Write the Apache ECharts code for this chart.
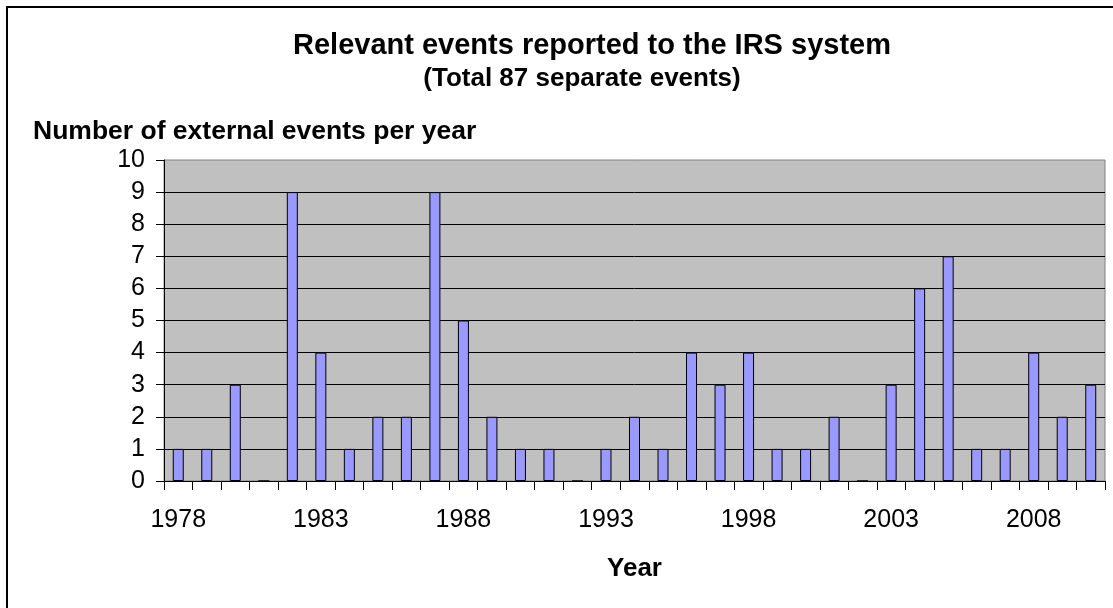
<!DOCTYPE html>
<html>
<head>
<meta charset="utf-8">
<script src="https://cdn.jsdelivr.net/npm/echarts@6/dist/echarts.min.js"></script>
<style>
  html, body { margin: 0; padding: 0; background: #fff; }
  #chart { width: 1113px; height: 608px; }
</style>
</head>
<body>
<div id="chart"></div>
<script>
// events per year
var years = [
  "1978", "1979", "1980", "1981", "1982", "1983", "1984", "1985", "1986", "1987",
  "1988", "1989", "1990", "1991", "1992", "1993", "1994", "1995", "1996", "1997",
  "1998", "1999", "2000", "2001", "2002", "2003", "2004", "2005", "2006", "2007",
  "2008", "2009", "2010"
];
var events = [
  1, 1, 3, 0, 9, 4, 1, 2, 2, 9,
  5, 2, 1, 1, 0, 1, 2, 1, 4, 3,
  4, 1, 1, 2, 0, 3, 6, 7, 1, 1,
  4, 2, 3
];

var font = "'Liberation Sans', Arial, sans-serif";

var chart = echarts.init(document.getElementById("chart"));
chart.setOption({
  animation: false,
  backgroundColor: "#fff",
  graphic: [
    {
      type: "rect",
      shape: { x: 7, y: 7, width: 1200, height: 700 },
      style: { fill: "none", stroke: "#000", lineWidth: 2 },
      silent: true
    }
  ],
  title: [
    {
      text: "Relevant events reported to the IRS system",
      left: 592, top: 31, textAlign: "center", padding: 0,
      textStyle: { fontFamily: font, fontSize: 29, fontWeight: "bold", color: "#000" }
    },
    {
      text: "(Total 87 separate events)",
      left: 582, top: 66, textAlign: "center", padding: 0,
      textStyle: { fontFamily: font, fontSize: 26, fontWeight: "bold", color: "#000" }
    },
    {
      text: "Number of external events per year",
      left: 33, top: 118, padding: 0,
      textStyle: { fontFamily: font, fontSize: 26.5, fontWeight: "bold", color: "#000" }
    }
  ],
  grid: {
    left: 164, right: 8, top: 160, bottom: 127,
    show: true, backgroundColor: "#c0c0c0", borderColor: "#808080", borderWidth: 1
  },
  xAxis: {
    type: "category",
    data: years,
    boundaryGap: true,
    name: "Year",
    nameLocation: "middle",
    nameGap: 75,
    nameTextStyle: { fontFamily: font, fontSize: 26, fontWeight: "bold", color: "#000" },
    axisLine: { show: true, lineStyle: { color: "#000", width: 1 } },
    axisTick: { show: true, interval: 0, length: 9, inside: false, lineStyle: { color: "#000", width: 1 } },
    axisLabel: { interval: 4, margin: 27, fontFamily: font, fontSize: 25, color: "#000" },
    splitLine: { show: false }
  },
  yAxis: {
    type: "value",
    min: 0, max: 10, interval: 1,
    axisLine: { show: true, lineStyle: { color: "#000", width: 1 } },
    axisTick: { show: true, length: 8, inside: false, lineStyle: { color: "#000", width: 1 } },
    axisLabel: { margin: 19, fontFamily: font, fontSize: 25, color: "#000" },
    splitLine: { show: true, showMaxLine: false, lineStyle: { color: "#000", width: 1 } }
  },
  series: [
    {
      type: "bar",
      data: events,
      barWidth: 11,
      itemStyle: { color: "#9999ff", borderColor: "#000", borderWidth: 1 }
    }
  ]
});
</script>
</body>
</html>
